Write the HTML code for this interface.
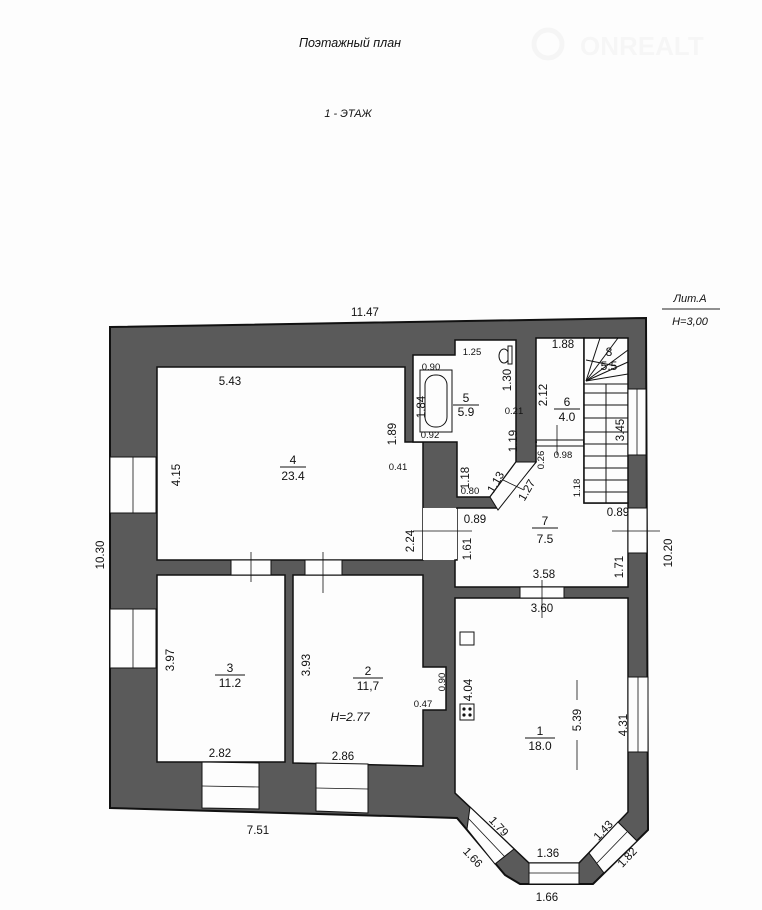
<!DOCTYPE html>
<html><head><meta charset="utf-8"><style>
html,body{margin:0;padding:0;background:#fdfdfd;}
svg{display:block;}
text{font-family:"Liberation Sans",sans-serif;fill:#111;}
.d{font-size:11.5px;}
.s{font-size:9.5px;}
.n{font-size:12px;}
</style></head><body>
<svg width="762" height="910" viewBox="0 0 762 910" xmlns="http://www.w3.org/2000/svg">
<rect width="762" height="910" fill="#fdfdfd"/>
<text x="350" y="47" text-anchor="middle" font-size="12.5" font-style="italic">Поэтажный план</text>
<text x="348" y="117" text-anchor="middle" font-size="11" font-style="italic">1 - ЭТАЖ</text>
<g opacity="0.06"><circle cx="548" cy="44" r="14" fill="none" stroke="#888" stroke-width="5"/><text x="580" y="55" font-size="26" font-weight="bold" style="fill:#999">ONREALT</text></g>
<text x="690" y="302" text-anchor="middle" font-size="11" font-style="italic">Лит.А</text>
<line x1="662" y1="309" x2="720" y2="309" stroke="#222" stroke-width="1"/>
<text x="690" y="325" text-anchor="middle" font-size="11" font-style="italic">H=3,00</text>

<polygon points="110,327 646,318 648,830 593,884 520,884 505,875 457,818 110,808" fill="#5a5a5a" stroke="#111" stroke-width="2"/>

<g fill="#fdfdfd" stroke="#111" stroke-width="1.5">
<polygon points="157,367 405,367 405,442 423,442 423,560 157,560"/>
<rect x="423" y="508" width="34" height="52" stroke="none"/>
<polygon points="457,508 498,508 536,462 536,442 584,442 584,503 628,503 628,587 455,587 455,560 457,560"/>
<polygon points="536,338 584,338 584,442 536,442"/>
<polygon points="584,338 628,338 628,503 584,503"/>
<polygon points="413,355 455,355 455,340 516,340 516,462 490,497 457,497 457,442 413,442"/>
<polygon points="157,575 285,575 285,762 157,762"/>
<polygon points="293,575 423,575 423,667 446,667 446,710 423,710 423,766 293,763"/>
<polygon points="455,598 628,598 628,812 579,863 529,863 455,793"/>
</g>
<rect x="424" y="509" width="33" height="50" fill="#fdfdfd"/>
<rect x="537" y="437" width="46" height="10" fill="#fdfdfd"/>
<line x1="536" y1="440" x2="584" y2="440" stroke="#111" stroke-width="1"/>
<line x1="536" y1="446" x2="584" y2="446" stroke="#111" stroke-width="1"/>
<polygon points="490,497 516,462 536,462 498,510" fill="#fdfdfd" stroke="#111" stroke-width="1"/>
<line x1="503" y1="480" x2="524" y2="490" stroke="#111" stroke-width="0.8"/>

<g fill="#fdfdfd" stroke="#111" stroke-width="1">
<rect x="231" y="560" width="40" height="15"/>
<rect x="305" y="560" width="37" height="15"/>
<rect x="520" y="587" width="44" height="11"/>
<rect x="110" y="457" width="46" height="56"/>
<rect x="110" y="609" width="46" height="59"/>
<rect x="628" y="389" width="18" height="66"/>
<rect x="628" y="508" width="19" height="45"/>
<rect x="628" y="677" width="20" height="75"/>
<polygon points="202,762 259,763 259,809 202,808"/>
<polygon points="316,763 368,764 368,813 316,811"/>
<polygon points="470,807 514,849 495,864 467,829"/>
<rect x="529" y="863" width="50" height="21"/>
<polygon points="618,822 637,841 604,873 589,853"/>
</g>
<g stroke="#111" stroke-width="0.8">
<line x1="133" y1="457" x2="133" y2="513"/>
<line x1="133" y1="609" x2="133" y2="668"/>
<line x1="637" y1="389" x2="637" y2="455"/>
<line x1="638" y1="677" x2="638" y2="752"/>
<line x1="202" y1="786" x2="259" y2="787"/>
<line x1="316" y1="788" x2="368" y2="789"/>
<line x1="468" y1="818" x2="505" y2="857"/>
<line x1="529" y1="873" x2="579" y2="873"/>
<line x1="627" y1="832" x2="597" y2="863"/>
<line x1="251" y1="552" x2="251" y2="582"/>
<line x1="323" y1="552" x2="323" y2="593"/>
<line x1="542" y1="580" x2="542" y2="618"/>
<line x1="612" y1="531" x2="660" y2="531"/>
<line x1="413" y1="531" x2="472" y2="531"/>
<line x1="557" y1="425" x2="557" y2="455"/>
<line x1="577" y1="680" x2="577" y2="700"/>
<line x1="577" y1="740" x2="577" y2="770"/>
</g>
<g stroke="#111" stroke-width="1">
<line x1="584" y1="384" x2="628" y2="384"/>
<line x1="584" y1="393" x2="628" y2="393"/>
<line x1="584" y1="405" x2="628" y2="405"/>
<line x1="584" y1="418" x2="628" y2="418"/>
<line x1="584" y1="432" x2="628" y2="432"/>
<line x1="584" y1="444" x2="628" y2="444"/>
<line x1="584" y1="456" x2="628" y2="456"/>
<line x1="584" y1="468" x2="628" y2="468"/>
<line x1="584" y1="480" x2="628" y2="480"/>
<line x1="584" y1="492" x2="628" y2="492"/>
<line x1="606" y1="384" x2="606" y2="503"/>
<line x1="586" y1="381" x2="600" y2="338"/>
<line x1="586" y1="381" x2="618" y2="338"/>
<line x1="586" y1="381" x2="628" y2="350"/>
<line x1="586" y1="381" x2="628" y2="362"/>
<line x1="586" y1="381" x2="628" y2="374"/>
<line x1="586" y1="360" x2="616" y2="366"/>
</g>
<rect x="420" y="370" width="32" height="62" fill="#fdfdfd" stroke="#111" stroke-width="1"/>
<rect x="425" y="375" width="22" height="52" rx="10" fill="none" stroke="#111" stroke-width="1"/>
<ellipse cx="504" cy="356" rx="5" ry="7" fill="none" stroke="#111"/>
<rect x="508" y="346" width="4" height="18" fill="#fdfdfd" stroke="#111"/>
<rect x="460" y="632" width="14" height="13" fill="none" stroke="#111"/>
<rect x="460" y="704" width="14" height="16" fill="none" stroke="#111"/>
<circle cx="464" cy="709" r="1.6" fill="#111"/><circle cx="470" cy="709" r="1.6" fill="#111"/>
<circle cx="464" cy="715" r="1.6" fill="#111"/><circle cx="470" cy="715" r="1.6" fill="#111"/>

<g class="n" text-anchor="middle">
<text x="293" y="464">4</text><line x1="280" y1="467" x2="306" y2="467" stroke="#111"/><text x="293" y="480">23.4</text>
<text x="466" y="402">5</text><line x1="453" y1="405" x2="479" y2="405" stroke="#111"/><text x="466" y="416">5.9</text>
<text x="567" y="406">6</text><line x1="554" y1="409" x2="580" y2="409" stroke="#111"/><text x="567" y="421">4.0</text>
<text x="609" y="356">8</text><text x="609" y="370">5.5</text>
<text x="545" y="525">7</text><line x1="532" y1="528" x2="558" y2="528" stroke="#111"/><text x="545" y="543">7.5</text>
<text x="230" y="672">3</text><line x1="215" y1="675" x2="245" y2="675" stroke="#111"/><text x="230" y="687">11.2</text>
<text x="368" y="675">2</text><line x1="353" y1="678" x2="383" y2="678" stroke="#111"/><text x="368" y="690">11,7</text>
<text x="540" y="735">1</text><line x1="525" y1="738" x2="555" y2="738" stroke="#111"/><text x="540" y="750">18.0</text>
<text x="350" y="721" font-style="italic">H=2.77</text>
</g>

<g class="d" text-anchor="middle">
<text x="365" y="316">11.47</text>
<text x="230" y="385">5.43</text>
<text x="220" y="757">2.82</text>
<text x="343" y="760">2.86</text>
<text x="258" y="834">7.51</text>
<text x="472" y="355" class="s">1.25</text>
<text x="563" y="348">1.88</text>
<text x="475" y="523">0.89</text>
<text x="618" y="516">0.89</text>
<text x="544" y="578">3.58</text>
<text x="542" y="612">3.60</text>
<text x="548" y="857">1.36</text>
<text x="547" y="901">1.66</text>
<text x="563" y="458" class="s">0.98</text>
<text x="470" y="494" class="s">0.80</text>
<text x="398" y="470" class="s">0.41</text>
<text x="431" y="370" class="s">0.90</text>
<text x="430" y="438" class="s">0.92</text>
<text x="514" y="414" class="s">0.21</text>
<text x="423" y="707" class="s">0.47</text>
<g transform="rotate(-90)">
<text x="-475" y="180">4.15</text>
<text x="-555" y="104">10.30</text>
<text x="-660" y="174">3.97</text>
<text x="-665" y="310">3.93</text>
<text x="-690" y="472">4.04</text>
<text x="-720" y="581">5.39</text>
<text x="-725" y="627">4.31</text>
<text x="-567" y="623">1.71</text>
<text x="-553" y="672">10.20</text>
<text x="-549" y="471">1.61</text>
<text x="-541" y="414">2.24</text>
<text x="-434" y="396">1.89</text>
<text x="-407" y="425">1.84</text>
<text x="-380" y="511">1.30</text>
<text x="-478" y="469">1.18</text>
<text x="-441" y="517">1.19</text>
<text x="-395" y="547">2.12</text>
<text x="-430" y="624">3.45</text>
<text x="-488" y="580" class="s">1.18</text>
<text x="-460" y="544" class="s">0.26</text>
<text x="-682" y="445" class="s">0.90</text>
</g>
<text transform="translate(499,484) rotate(-60)">1.13</text>
<text transform="translate(530,492) rotate(-60)">1.27</text>
<text transform="translate(496,829) rotate(47)">1.79</text>
<text transform="translate(470,860) rotate(47)">1.66</text>
<text transform="translate(606,833) rotate(-47)">1.43</text>
<text transform="translate(630,860) rotate(-47)">1.82</text>
</g>
</svg>
</body></html>
